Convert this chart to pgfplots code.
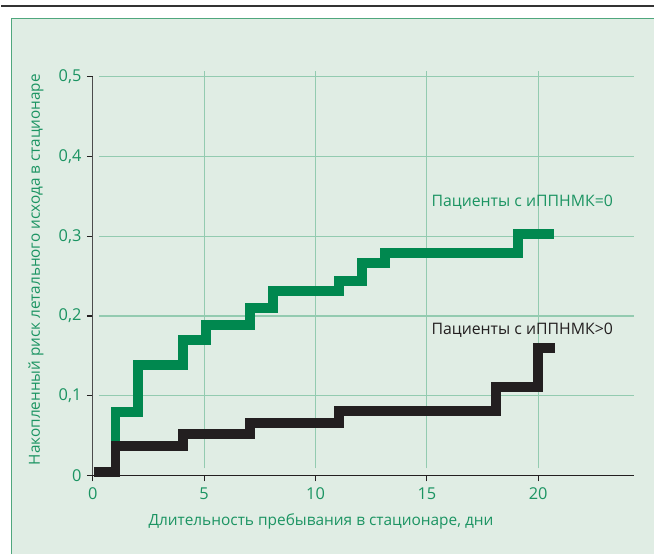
\documentclass[border=0pt]{standalone}
\usepackage{pgfplots}
\pgfplotsset{compat=1.18}
\usepackage{fontspec}
\setmainfont{Open Sans}
\definecolor{bgpanel}{HTML}{E0EDE4}
\definecolor{panelborder}{HTML}{4FA77D}
\definecolor{gridc}{HTML}{93CBB0}
\definecolor{sgreen}{HTML}{00884F}
\definecolor{tgreen}{HTML}{1B9462}
\definecolor{sblack}{HTML}{231F20}
\begin{document}
\begin{tikzpicture}[x=0.75pt,y=0.75pt]
% page frame
\fill[white] (0,0) rectangle (655,556);
\fill[bgpanel] (10,0) rectangle (655,538);
\draw[panelborder, line width=1.3pt] (10.5,0) -- (10.5,537.5) -- (655,537.5);
\draw[black!80, line width=1.6pt] (0,550) -- (655,550);
\coordinate (A) at (92,79);
\begin{axis}[
  at={(A)}, anchor=south west,
  scale only axis, width=407.25pt, height=300pt,
  xmin=0, xmax=24.3, ymin=0, ymax=0.5,
  clip=false,
  axis x line=bottom, axis y line=left,
  x axis line style={-, sblack, line width=1.1pt},
  y axis line style={-, black!70, line width=1.1pt},
  xtick={0,5,10,15,20}, ytick={0,0.1,0.2,0.3,0.4,0.5},
  tick align=outside, major tick length=4.5pt,
  tick style={sblack, line width=0.9pt},
  /pgf/number format/assume math mode=true,
  /pgf/number format/use comma,
  /pgf/number format/fixed,
  /pgf/number format/precision=1,
  ticklabel style={font=\fontsize{12.3}{14}\selectfont, text=tgreen},
  xticklabel style={yshift=-1pt},
  yticklabel style={xshift=-0.5pt},
]
% grid
\draw[gridc, line width=0.9pt] (axis cs:0.27,0.1) -- (axis cs:24.3,0.1);
\draw[gridc, line width=0.9pt] (axis cs:0.27,0.2) -- (axis cs:24.3,0.2);
\draw[gridc, line width=0.9pt] (axis cs:0.27,0.3) -- (axis cs:24.3,0.3);
\draw[gridc, line width=0.9pt] (axis cs:0.27,0.4) -- (axis cs:24.3,0.4);
\draw[gridc, line width=0.9pt] (axis cs:0.27,0.5) -- (axis cs:24.3,0.5);
\draw[gridc, line width=0.9pt] (axis cs:5,0.009) -- (axis cs:5,0.507);
\draw[gridc, line width=0.9pt] (axis cs:10,0.009) -- (axis cs:10,0.507);
\draw[gridc, line width=0.9pt] (axis cs:15,0.009) -- (axis cs:15,0.507);
\draw[gridc, line width=0.9pt] (axis cs:20,0.009) -- (axis cs:20,0.507);
% series
\addplot[const plot, sgreen, line width=7.5pt, line join=miter, line cap=butt] coordinates {
 (1.02,0.04) (1.02,0.08) (2.05,0.139) (4.05,0.17) (5.1,0.189) (7.05,0.21) (8.1,0.231)
 (11.05,0.244) (12.1,0.266) (13.1,0.279) (19.1,0.303) (20.7,0.303)};
\addplot[const plot, sblack, line width=7.5pt, line join=miter, line cap=butt] coordinates {
 (0.05,0.004) (1.02,0.0375) (4.05,0.0525) (7.05,0.066) (11.05,0.081) (18.1,0.111) (20.0,0.16) (20.75,0.16)};
\node[anchor=west, text=tgreen, font=\fontsize{11.9}{14}\selectfont, inner sep=0pt] at (axis cs:15.2,0.3425) {Пациенты с иППНМК=0};
\node[anchor=west, text=sblack, font=\fontsize{11.9}{14}\selectfont, inner sep=0pt] at (axis cs:15.2,0.1825) {Пациенты с иППНМК>0};
\end{axis}
\node[text=tgreen, font=\fontsize{11.6}{14}\selectfont] at (321,33) {Длительность пребывания в стационаре, дни};
\node[text=tgreen, font=\fontsize{11.5}{14}\selectfont, rotate=90] at (35,285.5) {Накопленный риск летального исхода в стационаре};
\end{tikzpicture}
\end{document}
